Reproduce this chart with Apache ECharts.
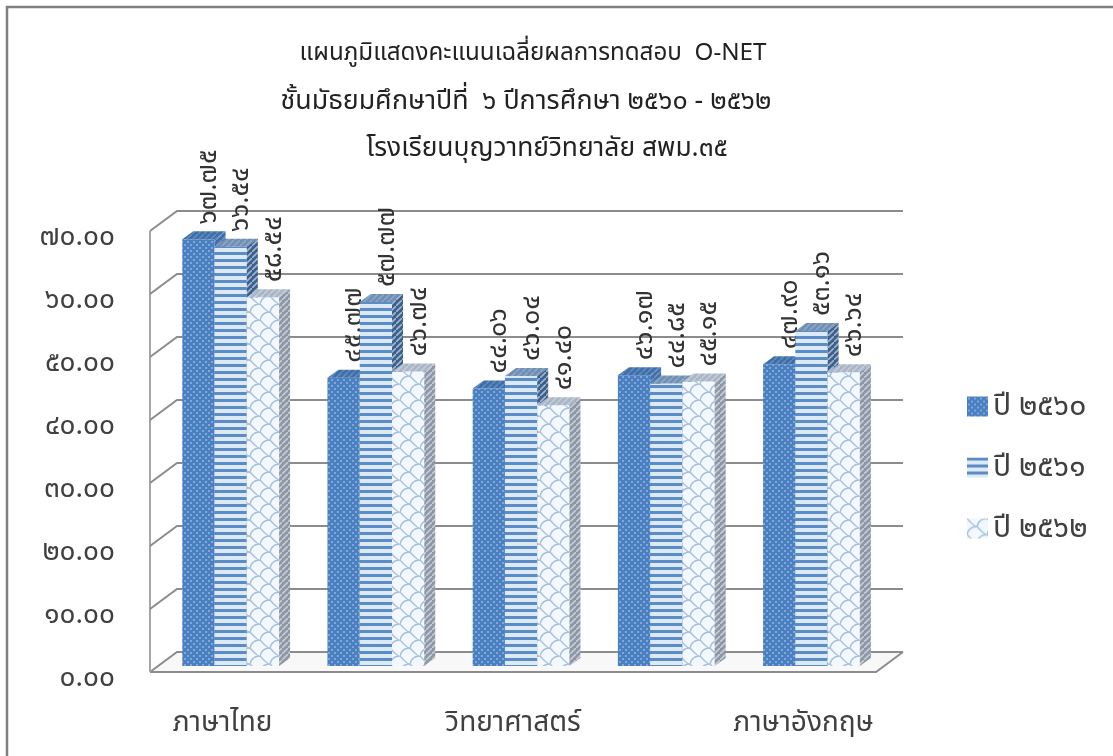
<!DOCTYPE html>
<html><head><meta charset="utf-8">
<style>html,body{margin:0;padding:0;background:#fff}#c{width:1113px;height:756px}</style>
<script src="https://cdn.jsdelivr.net/npm/echarts@6/dist/echarts.min.js"></script>
</head><body><div id="c"></div>
<script>
const categories = ['ภาษาไทย','คณิตศาสตร์','วิทยาศาสตร์','สังคมศึกษา','ภาษาอังกฤษ'];
const seriesNames = ['ปี ๒๕๖๐','ปี ๒๕๖๑','ปี ๒๕๖๒'];
const y2560 = [67.75,45.77,44.06,46.17,47.90];
const y2561 = [66.54,57.77,46.04,44.85,53.16];
const y2562 = [58.54,46.74,41.40,45.15,46.64];
const yTicks = [0,10,20,30,40,50,60,70];
const titleLines = ['แผนภูมิแสดงคะแนนเฉลี่ยผลการทดสอบ  O-NET','ชั้นมัธยมศึกษาปีที่  ๖ ปีการศึกษา ๒๕๖๐ - ๒๕๖๒','โรงเรียนบุญวาทย์วิทยาลัย สพม.๓๕'];

const TH = '๐๑๒๓๔๕๖๗๘๙';
const thai = s => String(s).replace(/[0-9]/g, d => TH[+d]);
const FONT = '"Noto Sans","Noto Sans Thai","DejaVu Sans",sans-serif';

function tile(w,h,draw){const c=document.createElement('canvas');c.width=w;c.height=h;draw(c.getContext('2d'));return {image:c,repeat:'repeat'};}
function dots(bg,dot){return tile(6,6,g=>{g.fillStyle=bg;g.fillRect(0,0,6,6);g.fillStyle=dot;g.fillRect(1,1,2,2);g.fillRect(4,4,2,2);});}
function stripes(a,b){return tile(4,7,g=>{g.fillStyle=b;g.fillRect(0,0,4,7);g.fillStyle=a;g.fillRect(0,0,4,3);});}
function scales(bg,line){return tile(20,16,g=>{g.fillStyle=bg;g.fillRect(0,0,20,16);g.strokeStyle=line;g.lineWidth=1.5;g.beginPath();
  g.moveTo(0,0);g.quadraticCurveTo(8,9,10,8);g.quadraticCurveTo(12,0,20,0);
  g.moveTo(10,8);g.quadraticCurveTo(18,17,20,16);g.moveTo(0,16);g.quadraticCurveTo(2,8,10,8);
  g.stroke();});}
function skew(a,b){return tile(6,6,g=>{g.fillStyle=a;g.fillRect(0,0,6,6);g.strokeStyle=b;g.lineWidth=1.6;g.beginPath();g.moveTo(-1,7);g.lineTo(7,-1);g.stroke();});}

const looks = [
 {front:dots('#4a7fc1','#7fa8d8'),top:skew('#3f6fa8','#5f8cc0'),side:skew('#3f6fa8','#6e94c4')},
 {front:stripes('#5b8cc4','#dce9f6'),top:skew('#6f8fb4','#8fa6c4'),side:skew('#3c5f8c','#9fb6d0')},
 {front:scales('#f2f8fd','#a6c0de'),top:skew('#a9b6c6','#c3ccd8'),side:skew('#8d97a6','#c4ccd6')}
];
const values=[y2560,y2561,y2562];
const DX=11,DY=-8,BASE=-6,BAR=0.2222,WX=27,WY=-20;

function barSeries(i){return {
  name:seriesNames[i],type:'custom',coordinateSystem:'cartesian2d',
  itemStyle:{color:looks[i].front},clip:false,z:3+i,
  data:categories.map((c,k)=>[k,values[i][k]]),
  renderItem(p,api){
    const v=api.value(1),o=api.coord([api.value(0),0]),t=api.coord([api.value(0),v]),w=api.size([1,0])[0]*BAR;
    const x0=o[0]+(i-1.25)*w,x1=x0+w,yb=o[1]+BASE,yt=t[1]+BASE;
    return {type:'group',children:[
      {type:'rect',shape:{x:x0,y:yt,width:w,height:yb-yt},style:{fill:looks[i].front}},
      {type:'polygon',shape:{points:[[x0,yt],[x1,yt],[x1+DX,yt+DY],[x0+DX,yt+DY]]},style:{fill:looks[i].top}},
      {type:'polygon',shape:{points:[[x1,yt],[x1+DX,yt+DY],[x1+DX,yb+DY],[x1,yb]]},style:{fill:looks[i].side}},
      {type:'text',x:(x0+x1)/2+10,y:yt+DY-7,rotation:Math.PI/2,z2:50,
        style:{text:thai(v.toFixed(2)),fill:'#333',font:'27px '+FONT,textAlign:'left',textVerticalAlign:'middle'}}
    ]};
  }};}

const wall={type:'custom',silent:true,z:1,clip:false,legendHoverLink:false,data:yTicks.map(t=>[t]),
  renderItem(p,api){
    const t=api.value(0),y=api.coord([0,t])[1],L=p.coordSys.x,R=L+p.coordSys.width,yTop=api.coord([0,70])[1];
    const kids=[{type:'polyline',shape:{points:[[L,y],[L+WX,y+WY],[R+WX,y+WY]]},style:{fill:null,stroke:'#8c8c8c',lineWidth:2}}];
    if(t===0){
      kids.unshift({type:'polygon',shape:{points:[[L,y],[L+WX,y+WY],[R+WX,y+WY],[R,y]]},style:{fill:'#f8f8f8'}});
      kids.push({type:'polyline',shape:{points:[[L,y],[R,y],[R+WX,y+WY]]},style:{fill:null,stroke:'#8c8c8c',lineWidth:2}});
      kids.push({type:'line',shape:{x1:L,y1:y,x2:L,y2:yTop},style:{stroke:'#a6a6a6',lineWidth:2}});
    }
    return {type:'group',children:kids};
  }};

const chart=echarts.init(document.getElementById('c'),null,{renderer:'canvas'});
chart.setOption({
  animation:false,backgroundColor:'#fff',
  graphic:[{type:'rect',silent:true,z:0,shape:{x:7,y:7,width:1200,height:800},style:{fill:'none',stroke:'#808080',lineWidth:2.5}}],
  title:[0,1,2].map(i=>({text:titleLines[i],left:[528,521,542][i],textAlign:'center',top:[36,83,130][i],
    textStyle:{fontFamily:FONT,fontSize:[24.2,26.8,26.4][i],fontWeight:'normal',color:'#222'}})),
  legend:{orient:'vertical',left:962,top:382,itemWidth:21,itemHeight:20,itemGap:22,icon:'rect',data:seriesNames,
    textStyle:{fontFamily:FONT,fontSize:30,lineHeight:39,color:'#404040'}},
  grid:{left:150,top:231,width:726,height:441},
  xAxis:{type:'category',data:categories,axisLine:{show:false},axisTick:{show:false},splitLine:{show:false},
    axisLabel:{interval:1,margin:37,fontFamily:FONT,fontSize:28,color:'#404040'}},
  yAxis:{type:'value',min:0,max:70,interval:10,axisLine:{show:false},axisTick:{show:false},splitLine:{show:false},
    axisLabel:{margin:35,fontFamily:FONT,fontSize:28,lineHeight:12,verticalAlign:'top',color:'#404040',formatter:v=>thai(v.toFixed(2))}},
  series:[wall,barSeries(0),barSeries(1),barSeries(2)]
});
</script></body></html>
